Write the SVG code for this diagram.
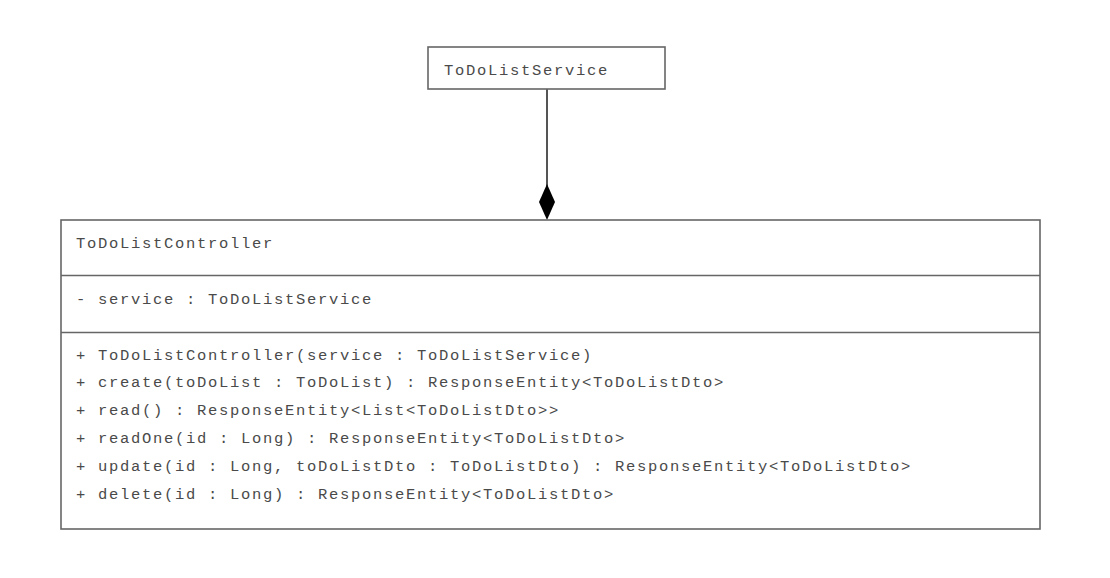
<svg xmlns="http://www.w3.org/2000/svg" width="1110" height="578" viewBox="0 0 1110 578">
<style>
.box{fill:#fff;stroke:#666;stroke-width:1.6}
.div{stroke:#666;stroke-width:1.6}
.t{font-family:"Liberation Mono","Courier New",monospace;font-size:15.5px;letter-spacing:1.7px;fill:#4a4a4a}
.conn{stroke:#555;stroke-width:2;fill:none}
</style>
<rect width="1110" height="578" fill="#fff"/>
<g id="connectors">
<line class="conn" x1="547" y1="89" x2="547" y2="186"/>
<polygon points="547,184 555,202 547,220 539,202" fill="#000"/>
</g>
<g id="service">
<rect class="box" x="428" y="47" width="237" height="42"/>
<text class="t" x="444" y="75">ToDoListService</text>
</g>
<g id="controller">
<rect class="box" x="61" y="220" width="979" height="309"/>
<line class="div" x1="61" y1="275.5" x2="1040" y2="275.5"/>
<line class="div" x1="61" y1="332.5" x2="1040" y2="332.5"/>
<text class="t" x="76" y="248">ToDoListController</text>
<text class="t" x="76" y="304">- service : ToDoListService</text>
<text class="t" x="76" y="360">+ ToDoListController(service : ToDoListService)</text>
<text class="t" x="76" y="387">+ create(toDoList : ToDoList) : ResponseEntity&lt;ToDoListDto&gt;</text>
<text class="t" x="76" y="415">+ read() : ResponseEntity&lt;List&lt;ToDoListDto&gt;&gt;</text>
<text class="t" x="76" y="443">+ readOne(id : Long) : ResponseEntity&lt;ToDoListDto&gt;</text>
<text class="t" x="76" y="471">+ update(id : Long, toDoListDto : ToDoListDto) : ResponseEntity&lt;ToDoListDto&gt;</text>
<text class="t" x="76" y="499">+ delete(id : Long) : ResponseEntity&lt;ToDoListDto&gt;</text>
</g>
</svg>
